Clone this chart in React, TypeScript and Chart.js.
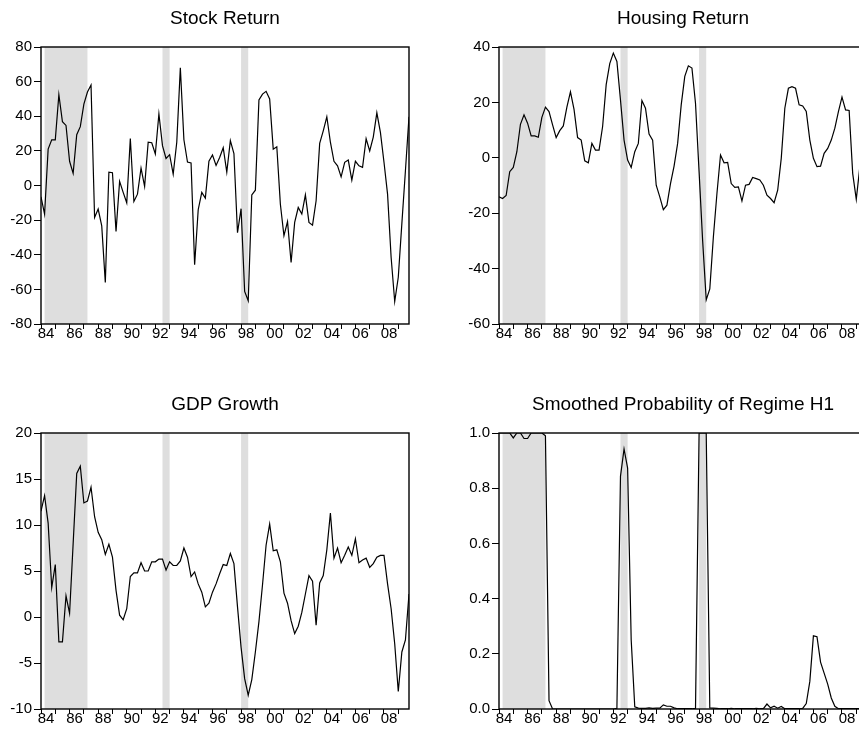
import React, { useEffect, useRef } from 'react';
import { Chart, registerables } from 'chart.js';

Chart.register(...registerables);

// ---------- data ----------
const startYear = 1984;
const quarterCount = 104; // 1984Q1 .. 2009Q4
const quarterLabels: string[] = Array.from(
  { length: quarterCount },
  (_, i) => `${startYear + Math.floor(i / 4)}Q${(i % 4) + 1}`
);

const stockReturn = [
  -6.5, -16.5, 21, 26.4, 26.4, 52.4, 36.8, 34.7, 14, 7,
  29.3, 34, 47, 54, 58, -18.5, -13.6, -23.3, -56, 7.7,
  7.4, -26.5, 2.4, -4, -10, 27.2, -9.2, -5, 10, -0.5,
  25, 24.7, 18.2, 41.3, 23, 15.6, 17.8, 6.6, 25, 68,
  26.4, 13.5, 13, -45.8, -14, -4, -7.3, 14, 17.6, 11.6,
  16.2, 21.8, 7.7, 25.9, 18.5, -27.3, -13.4, -61.2, -66.6, -5.4,
  -2.7, 49.4, 52.8, 54.4, 50, 21, 22.4, -10.8, -29, -20.8,
  -44.5, -21.3, -12.7, -16.5, -5.4, -21.3, -22.9, -8.8, 24.3, 31.6,
  39.7, 25, 14, 11.4, 5, 13.4, 14.7, 3.1, 14, 11.4,
  10.5, 27, 20, 28, 42, 30.7, 13.4, -5, -41.6, -67,
  -53, -22, 8.5, 39.7,
];

const housingReturn = [
  -14.1, -14.7, -13.6, -5, -3.5, 2.2, 12.1, 15.5, 12.5, 7.9,
  7.9, 7.4, 14.6, 18.3, 16.7, 11.9, 7.3, 9.8, 11.5, 18.3,
  23.8, 17.5, 7.3, 6.4, -1.1, -1.8, 5.2, 2.8, 2.8, 11.3,
  26.4, 34, 37.8, 34.8, 20.9, 6.4, -0.8, -3.5, 2.2, 5.2,
  20.7, 17.9, 8.6, 6.4, -9.9, -14.1, -18.7, -17.1, -9.3, -3,
  5.2, 19.1, 29.4, 33.2, 32.4, 19.7, -5, -30, -51.3, -47.3,
  -28.6, -12.9, 1, -1.8, -1.7, -9.3, -10.7, -10.5, -15.6, -9.9,
  -9.6, -7.1, -7.5, -8, -9.9, -13.5, -14.7, -16.2, -11.7, -0.2,
  17.9, 25.1, 25.7, 25.1, 19.1, 18.7, 16.7, 6.4, -0.2, -3.2,
  -3, 1.6, 3.4, 6.4, 10.7, 16.7, 21.9, 17.3, 17.1, -5.7,
  -15, -3.2, 4, 9,
];

const gdpGrowth = [
  11.5, 13.2, 10.2, 3.2, 5.7, -2.7, -2.7, 2.3, 0.4, 8,
  15.6, 16.4, 12.4, 12.6, 14.1, 10.9, 9.2, 8.4, 6.8, 7.9,
  6.5, 2.9, 0.2, -0.3, 0.9, 4.4, 4.8, 4.8, 5.9, 5,
  5, 6, 6, 6.3, 6.3, 5.1, 6, 5.6, 5.6, 6.1,
  7.5, 6.5, 4.4, 4.9, 3.6, 2.7, 1.1, 1.5, 2.7, 3.6,
  4.7, 5.7, 5.6, 6.9, 5.8, 1.1, -3.3, -6.7, -8.5, -6.8,
  -3.8, -0.5, 3.5, 7.8, 10.1, 7.2, 7.3, 6, 2.6, 1.5,
  -0.4, -1.8, -1, 0.5, 2.5, 4.5, 3.9, -0.9, 3.7, 4.5,
  7.3, 11.3, 6.4, 7.5, 5.9, 6.7, 7.6, 6.7, 8.5, 5.9,
  6.2, 6.4, 5.4, 5.8, 6.5, 6.7, 6.7, 3.6, 0.9, -2.9,
  -8.1, -3.8, -2.5, 2.5,
];

const probRegimeH1 = [
  1, 1, 1, 1, 0.982, 1, 1, 0.98, 0.98, 1,
  1, 1, 1, 0.99, 0.03, 0, 0, 0, 0, 0,
  0, 0, 0, 0, 0, 0, 0, 0, 0, 0,
  0, 0, 0, 0.002, 0.843, 0.942, 0.873, 0.25, 0.008, 0.003,
  0.002, 0.002, 0.004, 0.002, 0.003, 0.003, 0.015, 0.01, 0.01, 0.004,
  0.001, 0.001, 0.001, 0.001, 0.001, 0.002, 1, 1, 1, 0.004,
  0.003, 0.002, 0.001, 0.001, 0.001, 0.002, 0.001, 0.001, 0.001, 0.001,
  0.001, 0.001, 0.002, 0.001, 0.001, 0.018, 0.004, 0.01, 0.003, 0.009,
  0.001, 0.001, 0.001, 0.001, 0.001, 0.002, 0.02, 0.1, 0.265, 0.262,
  0.17, 0.13, 0.09, 0.04, 0.01, 0.001, 0.001, 0.001, 0.001, 0.001,
  0.001, 0.001, 0.001, 0.001,
];

const tickYears = [
  1984, 1985, 1986, 1987, 1988, 1989, 1990, 1991, 1992, 1993, 1994, 1995, 1996,
  1997, 1998, 1999, 2000, 2001, 2002, 2003, 2004, 2005, 2006, 2007, 2008, 2009,
];

const regimeStart = ['1984Q2', '1992Q3', '1998Q1'];
const regimeEnd = ['1987Q2', '1993Q1', '1998Q3'];

// ---------- styling / layout ----------
const FONT = '"Liberation Sans", Arial, Helvetica, sans-serif';
const SHADE = '#DEDEDE';

type PanelDef = {
  title: string;
  values: number[];
  yMin: number;
  yMax: number;
  yStep: number;
  decimals: number;
  col: number;
  row: number;
};

const panels: PanelDef[] = [
  { title: 'Stock Return', values: stockReturn, yMin: -80, yMax: 80, yStep: 20, decimals: 0, col: 0, row: 0 },
  { title: 'Housing Return', values: housingReturn, yMin: -60, yMax: 40, yStep: 20, decimals: 0, col: 1, row: 0 },
  { title: 'GDP Growth', values: gdpGrowth, yMin: -10, yMax: 20, yStep: 5, decimals: 0, col: 0, row: 1 },
  { title: 'Smoothed Probability of Regime H1', values: probRegimeH1, yMin: 0, yMax: 1, yStep: 0.2, decimals: 1, col: 1, row: 1 },
];

const CANVAS_W = 430;
const Y_AXIS_W = 41;
const RIGHT_PAD = 21;
const colLeft = [0, 457.5];
const rowGeom = [
  { top: 0, height: 365, padTop: 47, xAxisH: 41 },
  { top: 365, height: 372, padTop: 68, xAxisH: 28 },
];

function Panel({ def }: { def: PanelDef }) {
  const ref = useRef<HTMLCanvasElement | null>(null);
  const g = rowGeom[def.row];

  useEffect(() => {
    const canvas = ref.current;
    if (!canvas) return;

    const shadePlugin = {
      id: 'shade',
      beforeDatasetsDraw(chart: any) {
        const { ctx, chartArea } = chart;
        const x = chart.scales.x;
        ctx.save();
        ctx.fillStyle = SHADE;
        regimeStart.forEach((s, k) => {
          const a = x.getPixelForValue(quarterLabels.indexOf(s));
          const b = x.getPixelForValue(quarterLabels.indexOf(regimeEnd[k]));
          ctx.fillRect(a, chartArea.top, b - a, chartArea.bottom - chartArea.top);
        });
        ctx.restore();
      },
    };

    const framePlugin = {
      id: 'frame',
      afterDatasetsDraw(chart: any) {
        const { ctx, chartArea } = chart;
        ctx.save();
        ctx.strokeStyle = '#000';
        ctx.lineWidth = 1.4;
        ctx.strokeRect(
          chartArea.left,
          chartArea.top,
          chartArea.right - chartArea.left,
          chartArea.bottom - chartArea.top
        );
        ctx.restore();
      },
    };

    const titlePlugin = {
      id: 'ptitle',
      afterDraw(chart: any) {
        const { ctx, chartArea } = chart;
        ctx.save();
        ctx.fillStyle = '#000';
        ctx.font = `19px ${FONT}`;
        ctx.textAlign = 'center';
        ctx.textBaseline = 'alphabetic';
        ctx.fillText(def.title, (chartArea.left + chartArea.right) / 2, chartArea.top - 23.5);
        ctx.restore();
      },
    };

    const chart = new Chart(canvas, {
      type: 'line',
      data: {
        datasets: [
          {
            data: def.values.map((v, i) => ({ x: i, y: v })),
            borderColor: '#000',
            borderWidth: 1.2,
            pointRadius: 0,
            tension: 0,
            fill: false,
          },
        ],
      },
      options: {
        responsive: false,
        animation: false,
        events: [],
        layout: { padding: { top: g.padTop, left: 0, right: RIGHT_PAD, bottom: 0 } },
        plugins: { legend: { display: false }, tooltip: { enabled: false }, title: { display: false } },
        scales: {
          x: {
            type: 'linear',
            min: 0,
            max: quarterCount - 1,
            offset: false,
            afterFit: (s: any) => {
              s.height = g.xAxisH;
            },
            afterBuildTicks: (s: any) => {
              s.ticks = tickYears.map((y) => ({
                value: quarterLabels.indexOf(`${y}Q1`),
              }));
            },
            grid: {
              display: true,
              drawOnChartArea: false,
              drawTicks: true,
              tickLength: 5,
              color: '#000',
              lineWidth: 1,
            },
            border: { display: false },
            ticks: {
              autoSkip: false,
              maxRotation: 0,
              minRotation: 0,
              padding: -4,
              labelOffset: 5,
              color: '#000',
              font: { family: FONT, size: 15 },
              callback: (value: any) => {
                const q = quarterLabels[Math.round(Number(value))];
                if (!q) return '';
                const yr = Number(q.slice(0, 4));
                return yr % 2 === 0 ? q.slice(2, 4) : '';
              },
            },
          },
          y: {
            type: 'linear',
            min: def.yMin,
            max: def.yMax,
            afterFit: (s: any) => {
              s.width = Y_AXIS_W;
            },
            grid: {
              display: true,
              drawOnChartArea: false,
              drawTicks: true,
              tickLength: 7,
              color: '#000',
              lineWidth: 1,
            },
            border: { display: false },
            ticks: {
              stepSize: def.yStep,
              padding: 2,
              color: '#000',
              font: { family: FONT, size: 15 },
              callback: (value: any) => Number(value).toFixed(def.decimals),
            },
          },
        },
      },
      plugins: [shadePlugin, framePlugin, titlePlugin],
    } as any);

    return () => chart.destroy();
  }, [def]);

  return (
    <canvas
      ref={ref}
      width={CANVAS_W}
      height={g.height}
      style={{
        position: 'absolute',
        left: colLeft[def.col],
        top: g.top,
        width: CANVAS_W,
        height: g.height,
      }}
    />
  );
}

export default function App() {
  return (
    <div
      style={{
        position: 'fixed',
        left: 0,
        top: 0,
        width: 859,
        height: 737,
        overflow: 'hidden',
        background: '#fff',
      }}
    >
      {panels.map((p) => (
        <Panel key={p.title} def={p} />
      ))}
    </div>
  );
}
